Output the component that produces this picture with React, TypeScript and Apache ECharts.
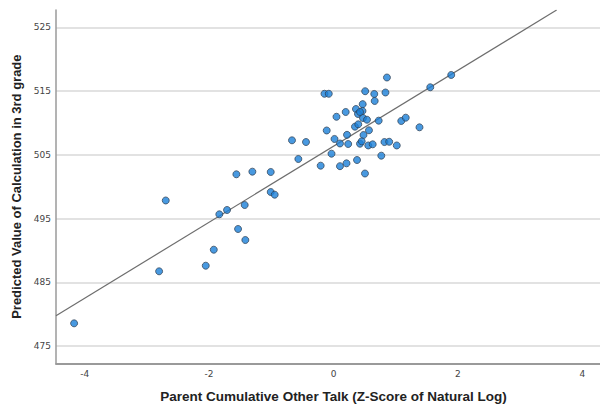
import React, { useEffect, useRef } from "react";
import * as echarts from "echarts";

// Observed points: [z-score, predicted value]
const xValues: number[] = [
  -4.169, -2.803, -2.696, -2.053, -1.924, -1.835, -1.711, -1.561, -1.534, -1.427,
  -1.417, -1.304, -1.009, -1.009, -0.945, -0.667, -0.442, -0.565, -0.206, -0.032,
  0.104, 0.209, 0.378, 0.506, 0.768, -0.109, 0.016, 0.104, 0.217, 0.236,
  0.048, 0.196, -0.145, -0.076, 0.509, 0.655, 0.835, 0.859, 0.662, 0.469,
  0.361, 0.466, 0.394, 0.474, 0.538, 0.726, 0.345, 0.398, 0.57, 0.482,
  0.426, 0.453, 0.559, 0.63, 0.819, 0.895, 1.017, 1.089, 1.161, 1.382,
  1.555, 1.892, 0.426,
];
const yValues: number[] = [
  478.56, 486.72, 497.83, 487.6, 490.11, 495.66, 496.34, 501.94, 493.36, 497.12,
  491.63, 502.35, 502.3, 499.16, 498.74, 507.27, 507.0, 504.34, 503.29, 505.17,
  503.21, 503.66, 504.18, 502.06, 504.86, 508.81, 507.48, 506.77, 508.13, 506.69,
  510.96, 511.71, 514.57, 514.57, 514.97, 514.54, 514.77, 517.12, 513.44, 512.94,
  512.18, 511.87, 511.4, 510.77, 510.5, 510.35, 509.41, 509.78, 508.84, 508.1,
  506.74, 507.11, 506.46, 506.64, 507.0, 507.04, 506.46, 510.3, 510.82, 509.31,
  515.59, 517.52, 511.71,
];
// Fit line end points
const fitLine: number[][] = [
  [-4.46, 479.75],
  [3.586, 527.71],
];
const xTicks: number[] = [-4, -2, 0, 2, 4];
const yTicks: number[] = [475, 485, 495, 505, 515, 525];

const X_MIN = -4.46;
const X_MAX = 4.46;
const Y_MIN = 472.29;
const Y_MAX = 527.71;

export default function App() {
  const ref = useRef<HTMLDivElement>(null);
  useEffect(() => {
    if (!ref.current) return;
    const chart = echarts.init(ref.current, undefined, { renderer: "svg" });
    const points = xValues.map((x, i) => [x, yValues[i]]);
    chart.setOption({
      animation: false,
      backgroundColor: "#ffffff",
      grid: {
        left: 56,
        top: 10,
        width: 555,
        height: 353.3,
        containLabel: false,
        outerBoundsMode: "none",
      },
      xAxis: {
        type: "value",
        min: X_MIN,
        max: X_MAX,
        name: "Parent Cumulative Other Talk (Z-Score of Natural Log)",
        nameLocation: "middle",
        nameGap: 26,
        nameTextStyle: {
          fontFamily: "Liberation Sans",
          fontWeight: "bold",
          fontSize: 13.5,
          color: "#222",
        },
        axisLine: { show: true, onZero: false, lineStyle: { color: "#9a9a9a", width: 2 } },
        axisTick: { show: false, customValues: xTicks },
        axisLabel: {
          customValues: xTicks,
          fontFamily: "DejaVu Sans",
          fontSize: 9,
          color: "#444",
          margin: 6,
        },
        splitLine: { show: false },
      },
      yAxis: {
        type: "value",
        min: Y_MIN,
        max: Y_MAX,
        name: "Predicted Value of Calculation in 3rd grade",
        nameLocation: "middle",
        nameGap: 33,
        nameTextStyle: {
          fontFamily: "Liberation Sans",
          fontWeight: "bold",
          fontSize: 13,
          color: "#222",
        },
        axisLine: { show: true, onZero: false, lineStyle: { color: "#9a9a9a", width: 1.5 } },
        axisTick: { show: false, customValues: yTicks },
        axisLabel: {
          customValues: yTicks,
          fontFamily: "DejaVu Sans",
          fontSize: 9,
          color: "#444",
          margin: 5,
        },
        splitLine: { show: true, lineStyle: { color: "#d8d8d8", width: 1.5 } },
      },
      series: [
        {
          type: "line",
          data: fitLine,
          showSymbol: false,
          symbol: "none",
          lineStyle: { color: "#6e6e6e", width: 1.2 },
          silent: true,
          z: 1,
        },
        {
          type: "scatter",
          data: points,
          symbol: "circle",
          symbolSize: 7,
          itemStyle: { color: "#1a80d8", borderColor: "#2e3d4f", borderWidth: 0.9 },
          z: 2,
        },
      ],
    });
    return () => chart.dispose();
  }, []);
  return <div ref={ref} style={{ width: 600, height: 405, position: "absolute", left: 0, top: 0 }} />;
}
